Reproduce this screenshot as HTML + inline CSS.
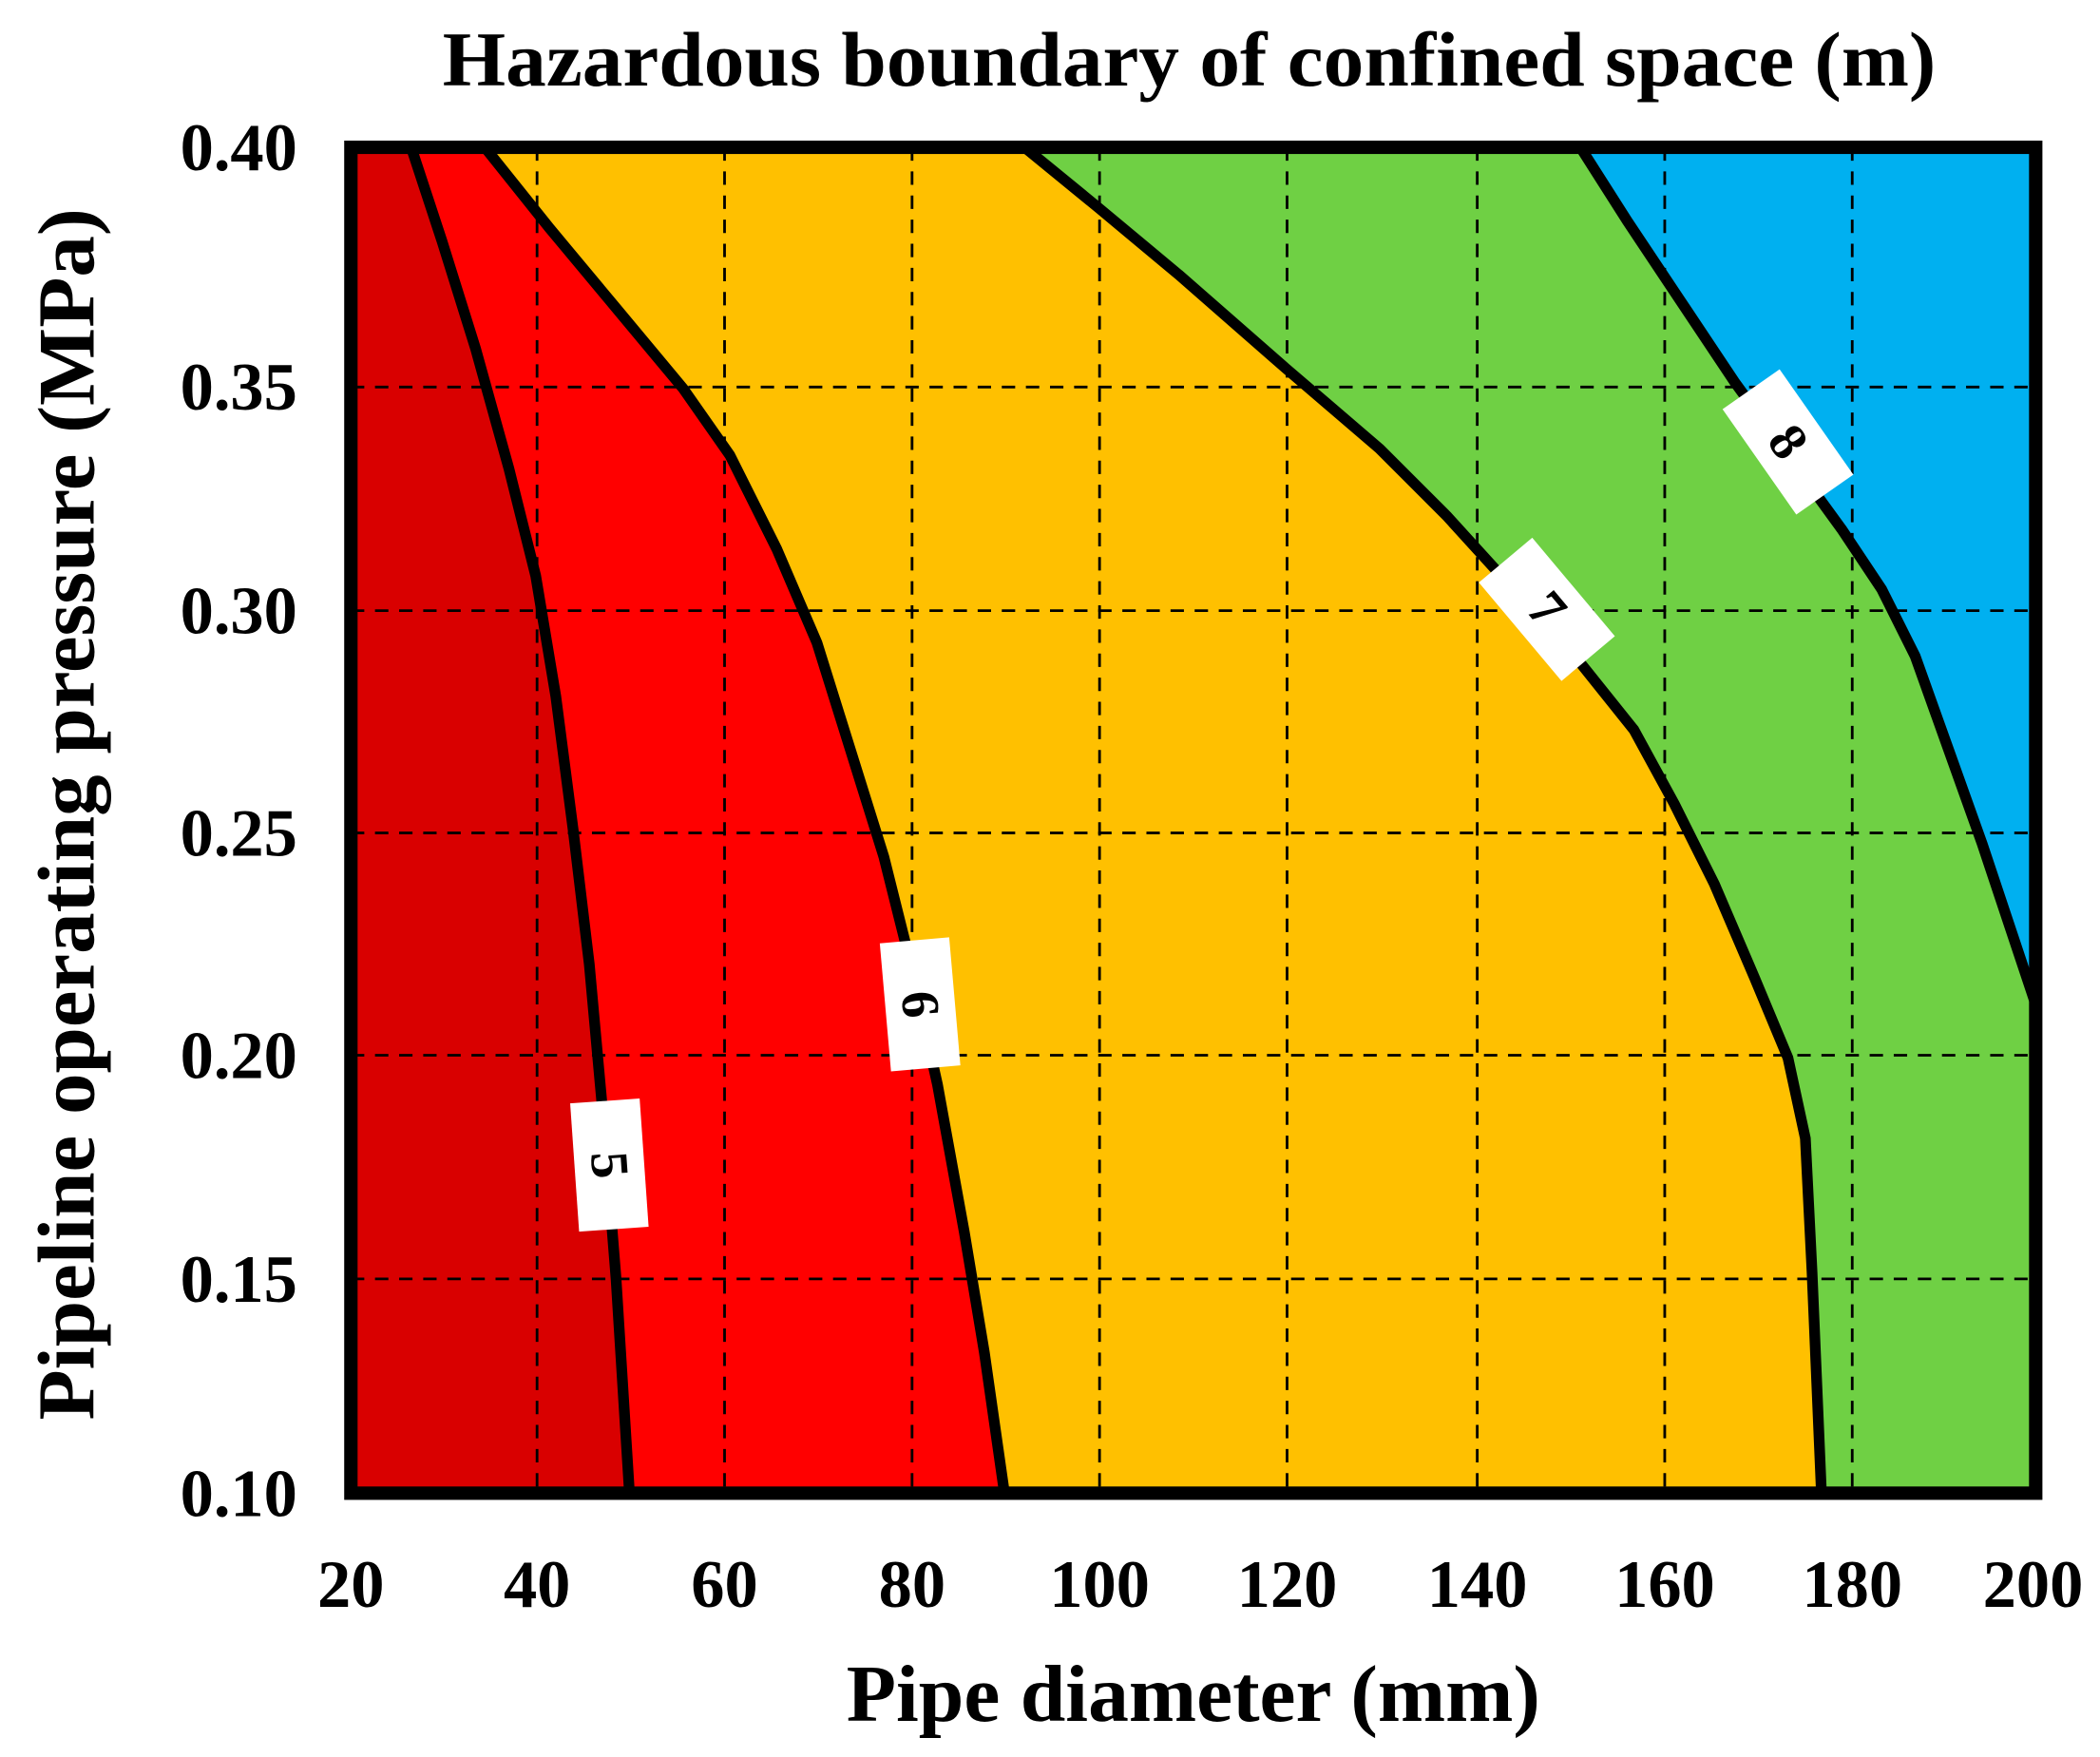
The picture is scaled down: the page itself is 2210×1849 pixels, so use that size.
<!DOCTYPE html>
<html><head><meta charset="utf-8"><style>
html,body{margin:0;padding:0;background:#fff;}
svg{display:block;}
text{font-family:"Liberation Serif",serif;font-weight:bold;fill:#000;}
</style></head><body>
<svg width="2210" height="1849" viewBox="0 0 1568 1312" preserveAspectRatio="none" xmlns="http://www.w3.org/2000/svg">
<rect x="0" y="0" width="1568" height="1312" fill="#fff"/>
<defs><clipPath id="c"><rect x="262" y="110" width="1258" height="1005"/></clipPath></defs>
<g clip-path="url(#c)">
<rect x="262" y="110" width="1258" height="1005" fill="#00b0f0"/>
<path d="M262,110 L1180,110 L1215,165 1255,225 1295,285 1335,340 1375,395 1405,440 1430,490 1455,560 1480,630 1500,690 1520,750 L1520,1115 L262,1115Z" fill="#6fd044"/>
<path d="M262,110 L765,110 L820,155 880,205 960,275 1030,335 1080,385 1130,440 1180,495 1220,545 1250,600 1280,660 1310,730 1335,790 1348,850 1353,950 1360,1115 L262,1115Z" fill="#ffc000"/>
<path d="M262,110 L362,110 L410,170 460,230 510,290 545,340 580,410 610,480 635,560 660,640 680,720 700,810 720,920 735,1010 750,1115 L262,1115Z" fill="#ff0000"/>
<path d="M262,110 L307,110 L330,180 355,260 380,350 400,430 415,520 428,620 440,720 450,830 460,955 470,1115 L262,1115Z" fill="#d90000"/>
<g stroke="#000" stroke-width="2" stroke-dasharray="10,8" fill="none">
<path d="M401,110V1115M541,110V1115M681,110V1115M821,110V1115M961,110V1115M1103,110V1115M1243,110V1115M1383,110V1115"/>
<path d="M262,289H1520M262,456H1520M262,622H1520M262,788H1520M262,955H1520"/>
</g>
<g stroke="#000" stroke-width="8" fill="none" stroke-linejoin="round">
<path d="M1180,110 L1215,165 1255,225 1295,285 1335,340 1375,395 1405,440 1430,490 1455,560 1480,630 1500,690 1520,750"/>
<path d="M765,110 L820,155 880,205 960,275 1030,335 1080,385 1130,440 1180,495 1220,545 1250,600 1280,660 1310,730 1335,790 1348,850 1353,950 1360,1115"/>
<path d="M362,110 L410,170 460,230 510,290 545,340 580,410 610,480 635,560 660,640 680,720 700,810 720,920 735,1010 750,1115"/>
<path d="M307,110 L330,180 355,260 380,350 400,430 415,520 428,620 440,720 450,830 460,955 470,1115"/>
</g>
</g>
<rect x="262" y="110" width="1258" height="1005" fill="none" stroke="#000" stroke-width="10"/>
<g>
<g transform="translate(455,870) rotate(86)"><rect x="-48" y="-26" width="96" height="52" fill="#fff"/><text x="0" y="13" font-size="40" text-anchor="middle">5</text></g>
<g transform="translate(687,750) rotate(85)"><rect x="-48" y="-26" width="96" height="52" fill="#fff"/><text x="0" y="13" font-size="40" text-anchor="middle">6</text></g>
<g transform="translate(1155,455) rotate(50)"><rect x="-48" y="-26" width="96" height="52" fill="#fff"/><text x="0" y="13" font-size="40" text-anchor="middle">7</text></g>
<g transform="translate(1335,330) rotate(55)"><rect x="-48" y="-26" width="96" height="52" fill="#fff"/><text x="0" y="13" font-size="40" text-anchor="middle">8</text></g>
</g>
<text x="888" y="64" font-size="58" text-anchor="middle" textLength="1115" lengthAdjust="spacingAndGlyphs">Hazardous boundary of confined space (m)</text>
<g font-size="50" text-anchor="end">
<text x="222" y="127">0.40</text><text x="222" y="306">0.35</text><text x="222" y="473">0.30</text>
<text x="222" y="639">0.25</text><text x="222" y="805">0.20</text><text x="222" y="972">0.15</text><text x="222" y="1132">0.10</text>
</g>
<g font-size="50" text-anchor="middle">
<text x="262" y="1200">20</text><text x="401" y="1200">40</text><text x="541" y="1200">60</text><text x="681" y="1200">80</text>
<text x="821" y="1200">100</text><text x="961" y="1200">120</text><text x="1103" y="1200">140</text><text x="1243" y="1200">160</text>
<text x="1383" y="1200">180</text><text x="1518" y="1200">200</text>
</g>
<text x="891" y="1285" font-size="60" text-anchor="middle" textLength="518" lengthAdjust="spacingAndGlyphs">Pipe diameter (mm)</text>
<text transform="translate(70,608) rotate(-90)" font-size="60" text-anchor="middle" textLength="905" lengthAdjust="spacingAndGlyphs">Pipeline operating pressure (MPa)</text>
</svg>
</body></html>
